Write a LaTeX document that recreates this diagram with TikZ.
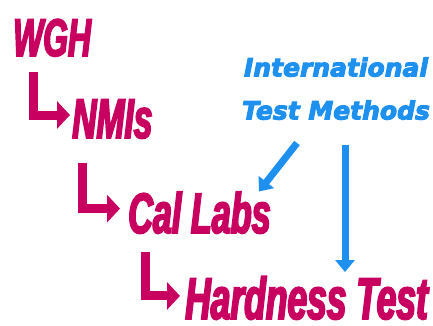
\documentclass[tikz,border=0pt]{standalone}
\usepackage{fontspec}
\usetikzlibrary{arrows.meta}
\newfontfamily\condfont[FakeStretch=0.6, FakeBold=3]{Liberation Sans Bold Italic}
\newfontfamily\heavyfont[FakeBold=4]{DejaVu Sans Bold Oblique}
\definecolor{wghpink}{HTML}{C8005F}
\definecolor{itmblue}{HTML}{1E90F0}
\tikzset{
  stage/.style={text=wghpink, inner sep=0pt, anchor=base west,
    font=\condfont\fontsize{#1}{#1}\selectfont},
  pinkarrow/.style={draw=wghpink, line width=9pt,
    -{Triangle[length=13pt,width=27pt]}},
  bluearrow/.style={draw=itmblue, line width=7pt,
    -{Triangle[length=12pt,width=19pt]}},
}
\begin{document}
\begin{tikzpicture}[x=1pt,y=-1pt]
      \useasboundingbox (0,0) rectangle (433,325);

      % hierarchy
      \node[stage=53] (wgh) at (13,56) {WGH};
      \node[stage=56] (nmi) at (72,138) {NMIs};
      \node[stage=57] (cal) at (128,233) {Cal Labs};
      \node[stage=59] (hard) at (185,319) {Hardness Test};

      \draw[pinkarrow] ([xshift=20pt,yshift=-16pt]wgh.base west) |- ([xshift=-2pt,yshift=4pt]nmi.west);
      \draw[pinkarrow] ([xshift=10pt,yshift=-25pt]nmi.base west) |- ([xshift=-8pt,yshift=4pt]cal.west);
      \draw[pinkarrow] ([xshift=17pt,yshift=-19pt]cal.base west) |- ([xshift=-5pt,yshift=2pt]hard.west);

      % test methods
      \node[text=itmblue, inner sep=0pt, anchor=south, align=center,
        font=\heavyfont\fontsize{25}{43}\selectfont]
        (itm) at (336,120) {International\\Test Methods};

      \coordinate (a1) at ([xshift=-39pt,yshift=-23pt]itm.south);
      \coordinate (b1) at ([xshift=9pt,yshift=-25pt]itm.south);
      \draw[bluearrow] (a1) -- ([xshift=-12pt]cal.north east);
      \draw[bluearrow, shorten >=4pt] (b1) -- (b1 |- hard.north);
    \end{tikzpicture}
\end{document}
